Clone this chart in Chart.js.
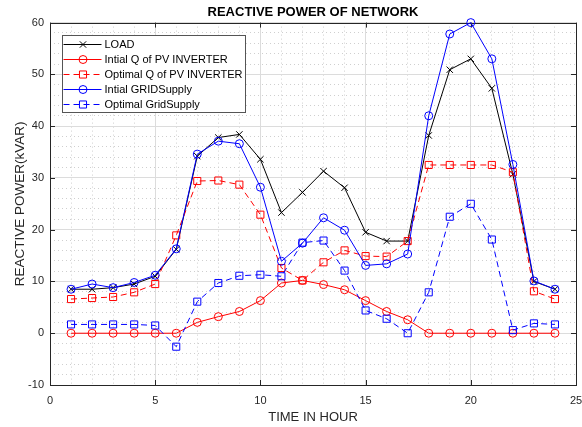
<!DOCTYPE html>
<html>
<head>
<meta charset="utf-8">
<script src="https://cdn.jsdelivr.net/npm/chart.js@4.4.1/dist/chart.umd.min.js"></script>
<style>
  html, body { margin: 0; padding: 0; background: #fff; }
</style>
</head>
<body>
<canvas id="grafico" width="582" height="427"></canvas>
<script>
const hours = [1, 2, 3, 4, 5, 6, 7, 8, 9, 10, 11, 12, 13, 14, 15, 16, 17, 18, 19, 20, 21, 22, 23, 24];

const load = [8.5, 8.5, 8.8, 9.5, 11.0, 16.2, 34.2, 37.8, 38.4, 33.6, 23.3, 27.2,
  31.3, 28.1, 19.5, 17.8, 17.8, 38.2, 50.9, 53.0, 47.3, 30.7, 10.0, 8.5];
const initialQ = [0, 0, 0, 0, 0, 0, 2.1, 3.2, 4.2, 6.3, 9.7, 10.2,
  9.4, 8.4, 6.3, 4.2, 2.6, 0, 0, 0, 0, 0, 0, 0];
const optimalQ = [6.6, 6.8, 7.0, 7.9, 9.5, 18.9, 29.4, 29.5, 28.7, 22.9, 12.6, 10.2,
  13.7, 16.0, 14.9, 14.8, 17.8, 32.5, 32.5, 32.5, 32.5, 31.1, 8.1, 6.6];
const initialGrid = [8.5, 9.5, 8.8, 9.8, 11.2, 16.3, 34.6, 37.1, 36.6, 28.2, 13.9, 17.4,
  22.3, 19.9, 13.1, 13.4, 15.3, 42.0, 57.8, 60.0, 53.0, 32.6, 10.1, 8.5];
const optimalGrid = [1.7, 1.7, 1.7, 1.7, 1.5, -2.6, 6.1, 9.7, 11.1, 11.3, 11.0, 17.5,
  17.9, 12.1, 4.4, 2.8, 0, 7.9, 22.5, 25.0, 18.1, 0.6, 1.9, 1.7];

const xTicks = [0, 5, 10, 15, 20, 25];
const yTicks = [-10, 0, 10, 20, 30, 40, 50, 60];

const FONT = "'Liberation Sans', Arial, sans-serif";
const AXIS_COLOR = "#262626";

const toPoints = (vals) => vals.map((v, i) => ({ x: hours[i], y: v }));

function serie(label, vals, color, style, radius, dashed, order) {
  return {
    label: label,
    data: toPoints(vals),
    borderColor: color,
    backgroundColor: color,
    borderWidth: 1,
    borderDash: dashed ? [6, 4] : [],
    pointStyle: style,
    pointRadius: radius,
    pointBorderColor: color,
    pointBackgroundColor: "rgba(0,0,0,0)",
    pointBorderWidth: 1,
    tension: 0,
    clip: false,
    order: order,
  };
}

// box around the plot with inward tick marks
const frame = {
  id: "frame",
  beforeDatasetsDraw(chart) {
    const { ctx, chartArea: a, scales } = chart;
    ctx.save();
    ctx.strokeStyle = AXIS_COLOR;
    ctx.lineWidth = 1;
    ctx.strokeRect(Math.round(a.left) + 0.5, Math.round(a.top) + 0.5,
      Math.round(a.right - a.left), Math.round(a.bottom - a.top));
    ctx.beginPath();
    xTicks.forEach((t) => {
      const x = Math.round(scales.x.getPixelForValue(t)) + 0.5;
      ctx.moveTo(x, a.bottom); ctx.lineTo(x, a.bottom - 5);
      ctx.moveTo(x, a.top); ctx.lineTo(x, a.top + 5);
    });
    yTicks.forEach((t) => {
      const y = Math.round(scales.y.getPixelForValue(t)) + 0.5;
      ctx.moveTo(a.left, y); ctx.lineTo(a.left + 5, y);
      ctx.moveTo(a.right, y); ctx.lineTo(a.right - 5, y);
    });
    ctx.stroke();
    ctx.restore();
  },
};

function marker(ctx, style, x, y, r) {
  ctx.beginPath();
  if (style === "circle") {
    ctx.arc(x, y, r, 0, Math.PI * 2);
  } else if (style === "rect") {
    const s = r * Math.SQRT1_2;
    ctx.rect(x - s, y - s, 2 * s, 2 * s);
  } else {
    const s = r * Math.SQRT1_2;
    ctx.moveTo(x - s, y - s); ctx.lineTo(x + s, y + s);
    ctx.moveTo(x - s, y + s); ctx.lineTo(x + s, y - s);
  }
  ctx.stroke();
}

// legend box in the upper left corner of the plot
const legendBox = {
  id: "legendBox",
  afterDraw(chart) {
    const { ctx } = chart;
    const left = 62.5, top = 35.5, w = 183, rowH = 15;
    const sets = chart.data.datasets;
    ctx.save();
    ctx.fillStyle = "#fff";
    ctx.strokeStyle = "#555";
    ctx.lineWidth = 1;
    ctx.fillRect(left, top, w, 77);
    ctx.strokeRect(left, top, w, 77);
    ctx.font = "11px " + FONT;
    ctx.textBaseline = "middle";
    sets.forEach((ds, i) => {
      const y = Math.round(top + 8 + i * rowH) + 0.5;
      ctx.strokeStyle = ds.borderColor;
      ctx.setLineDash(ds.borderDash);
      ctx.beginPath();
      ctx.moveTo(left + 1, y);
      ctx.lineTo(left + 39, y);
      ctx.stroke();
      ctx.setLineDash([]);
      marker(ctx, ds.pointStyle, left + 20.5, y, ds.pointRadius);
      ctx.fillStyle = "#000";
      ctx.fillText(ds.label, left + 42, y);
    });
    ctx.restore();
  },
};

Chart.defaults.font.family = FONT;

const ctx = document.getElementById("grafico").getContext("2d");
new Chart(ctx, {
  type: "line",
  data: {
    datasets: [
      serie("LOAD", load, "#000000", "crossRot", 4.5, false, 5),
      serie("Intial Q of PV INVERTER", initialQ, "#ff0000", "circle", 4, false, 4),
      serie("Optimal Q of PV INVERTER", optimalQ, "#ff0000", "rect", 5, true, 3),
      serie("Intial GRIDSupply", initialGrid, "#0000ff", "circle", 4, false, 2),
      serie("Optimal GridSupply", optimalGrid, "#0000ff", "rect", 5, true, 1),
    ],
  },
  options: {
    responsive: false,
    animation: false,
    layout: { padding: { left: 0, right: 5.5, top: 0, bottom: 0 } },
    plugins: {
      legend: { display: false },
      tooltip: { enabled: false },
      title: {
        display: true,
        fullSize: false,
        text: "REACTIVE POWER OF NETWORK",
        color: "#000",
        font: { size: 13, weight: "bold" },
        padding: { top: 5, bottom: 2 },
      },
    },
    scales: {
      x: {
        type: "linear",
        min: 0,
        max: 25,
        afterFit: (s) => {
          s.height = 42;
          s.paddingLeft = 0;
          s.paddingRight = 0;
        },
        ticks: {
          stepSize: 1,
          autoSkip: false,
          maxRotation: 0,
          padding: 9,
          color: AXIS_COLOR,
          font: { size: 11 },
          callback: (v) => (xTicks.includes(v) ? v : ""),
        },
        grid: {
          drawTicks: false,
          color: (c) => (c.tick && c.tick.value % 5 === 0 ? "#dcdcdc" : "#cfcfcf"),
        },
        border: {
          display: false,
          dash: (c) => (c.tick && c.tick.value % 5 === 0 ? [] : [1, 3]),
        },
        title: {
          display: true,
          text: "TIME IN HOUR",
          color: AXIS_COLOR,
          font: { size: 13 },
          padding: { top: 0, bottom: 2 },
        },
      },
      y: {
        min: -10,
        max: 60,
        afterFit: (s) => { s.width = 50; },
        ticks: {
          stepSize: 2,
          autoSkip: false,
          padding: 6,
          color: AXIS_COLOR,
          font: { size: 11 },
          callback: (v) => (yTicks.includes(v) ? v : ""),
        },
        grid: {
          drawTicks: false,
          color: (c) => (c.tick && c.tick.value % 10 === 0 ? "#dcdcdc" : "#cfcfcf"),
        },
        border: {
          display: false,
          dash: (c) => (c.tick && c.tick.value % 10 === 0 ? [] : [1, 3]),
        },
        title: {
          display: true,
          text: "REACTIVE POWER(kVAR)",
          color: AXIS_COLOR,
          font: { size: 13.5 },
          padding: { top: 12, bottom: 0 },
        },
      },
    },
  },
  plugins: [frame, legendBox],
});
</script>
</body>
</html>
